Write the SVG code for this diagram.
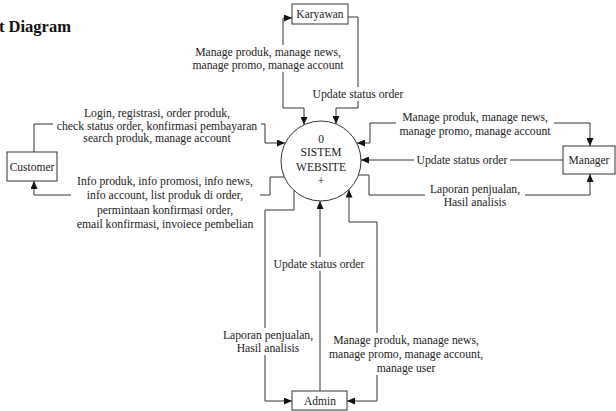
<svg xmlns="http://www.w3.org/2000/svg" width="616" height="411" viewBox="0 0 616 411">
<defs>
<marker id="arr" markerWidth="8" markerHeight="7" refX="8" refY="3.5" orient="auto-start-reverse" markerUnits="userSpaceOnUse">
<path d="M0,0 L8,3.5 L0,7 z" fill="#111"/>
</marker>
<style>
.box{fill:#fff;stroke:#333;stroke-width:1}
.ln{fill:none;stroke:#333;stroke-width:1}
.t{font-family:"Liberation Serif","Times New Roman",serif;font-size:11.7px;fill:#222;text-anchor:middle}
.n{font-family:"Liberation Serif","Times New Roman",serif;font-size:11.5px;fill:#222;text-anchor:middle}
.bg{fill:#fff}
</style>
</defs>
<rect width="616" height="411" fill="#fff"/>
<text x="-1" y="32" font-family="Liberation Serif, serif" font-weight="bold" font-size="16.5" fill="#111">t Diagram</text>

<g id="connectors">
<path class="ln" d="M304,124.8 V108 H283 V18 H292" marker-start="url(#arr)" marker-end="url(#arr)"/>
<path class="ln" d="M348,17 H358 V108 H336 V124" marker-end="url(#arr)"/>
<path class="ln" d="M34,152 V124 H265 V143 H285" marker-end="url(#arr)"/>
<path class="ln" d="M284,177 H270 V195 H34 V181" marker-end="url(#arr)"/>
<path class="ln" d="M357,143 H370 V123 H590 V146" marker-start="url(#arr)" marker-end="url(#arr)"/>
<path class="ln" d="M563,160 H361" marker-end="url(#arr)"/>
<path class="ln" d="M358.5,175 H369 V195 H590 V174" marker-end="url(#arr)"/>
<path class="ln" d="M294,190.5 V210 H265 V401 H292" marker-end="url(#arr)"/>
<path class="ln" d="M320,391 V201" marker-end="url(#arr)"/>
<path class="ln" d="M349,189.6 V222 H377 V401 H347" marker-start="url(#arr)" marker-end="url(#arr)"/>
</g>

<g id="labels">
<rect class="bg" x="189" y="45" width="158" height="27"/>
<text class="t" x="268" y="56">Manage produk, manage news,</text>
<text class="t" x="268" y="69">manage promo, manage account</text>
<rect class="bg" x="311" y="87" width="94" height="14"/>
<text class="t" x="358" y="98">Update status order</text>

<rect class="bg" x="53" y="106" width="208" height="39"/>
<text class="t" x="157" y="117">Login, registrasi, order produk,</text>
<text class="t" x="157" y="130">check status order, konfirmasi pembayaran</text>
<text class="t" x="157" y="142">search produk, manage account</text>

<rect class="bg" x="71" y="174" width="189" height="57"/>
<text class="t" x="165" y="185">Info produk, info promosi, info news,</text>
<text class="t" x="165" y="199">info account, list produk di order,</text>
<text class="t" x="165" y="214">permintaan konfirmasi order,</text>
<text class="t" x="165" y="228">email konfirmasi, invoiece pembelian</text>

<rect class="bg" x="396" y="110" width="158" height="28"/>
<text class="t" x="475" y="121">Manage produk, manage news,</text>
<text class="t" x="475" y="135">manage promo, manage account</text>
<rect class="bg" x="414" y="153" width="96" height="14"/>
<text class="t" x="462" y="164">Update status order</text>
<rect class="bg" x="425" y="182" width="100" height="27"/>
<text class="t" x="475" y="193">Laporan penjualan,</text>
<text class="t" x="475" y="206">Hasil analisis</text>

<rect class="bg" x="272" y="257" width="94" height="14"/>
<text class="t" x="319" y="268">Update status order</text>
<rect class="bg" x="220" y="328" width="96" height="27"/>
<text class="t" x="268" y="339">Laporan penjualan,</text>
<text class="t" x="268" y="352">Hasil analisis</text>
<rect class="bg" x="326" y="333" width="160" height="42"/>
<text class="t" x="406" y="344">Manage produk, manage news,</text>
<text class="t" x="406" y="358">manage promo, manage account,</text>
<text class="t" x="406" y="372">manage user</text>
</g>

<g id="sistem">
<circle cx="321" cy="161" r="40" class="box"/>
<text class="n" x="321" y="143">0</text>
<text class="n" x="321" y="156">SISTEM</text>
<text class="n" x="321" y="171">WEBSITE</text>
<text class="n" x="321" y="185">+</text>
</g>
<g id="karyawan">
<rect class="box" x="292" y="4" width="56" height="20"/>
<text class="n" x="320" y="18">Karyawan</text>
</g>
<g id="customer">
<rect class="box" x="7" y="152" width="50" height="29"/>
<text class="n" x="32" y="171">Customer</text>
</g>
<g id="manager">
<rect class="box" x="563" y="146" width="52" height="28"/>
<text class="n" x="589" y="164">Manager</text>
</g>
<g id="admin">
<rect class="box" x="292" y="391" width="55" height="19"/>
<text class="n" x="320" y="405">Admin</text>
</g>
</svg>
